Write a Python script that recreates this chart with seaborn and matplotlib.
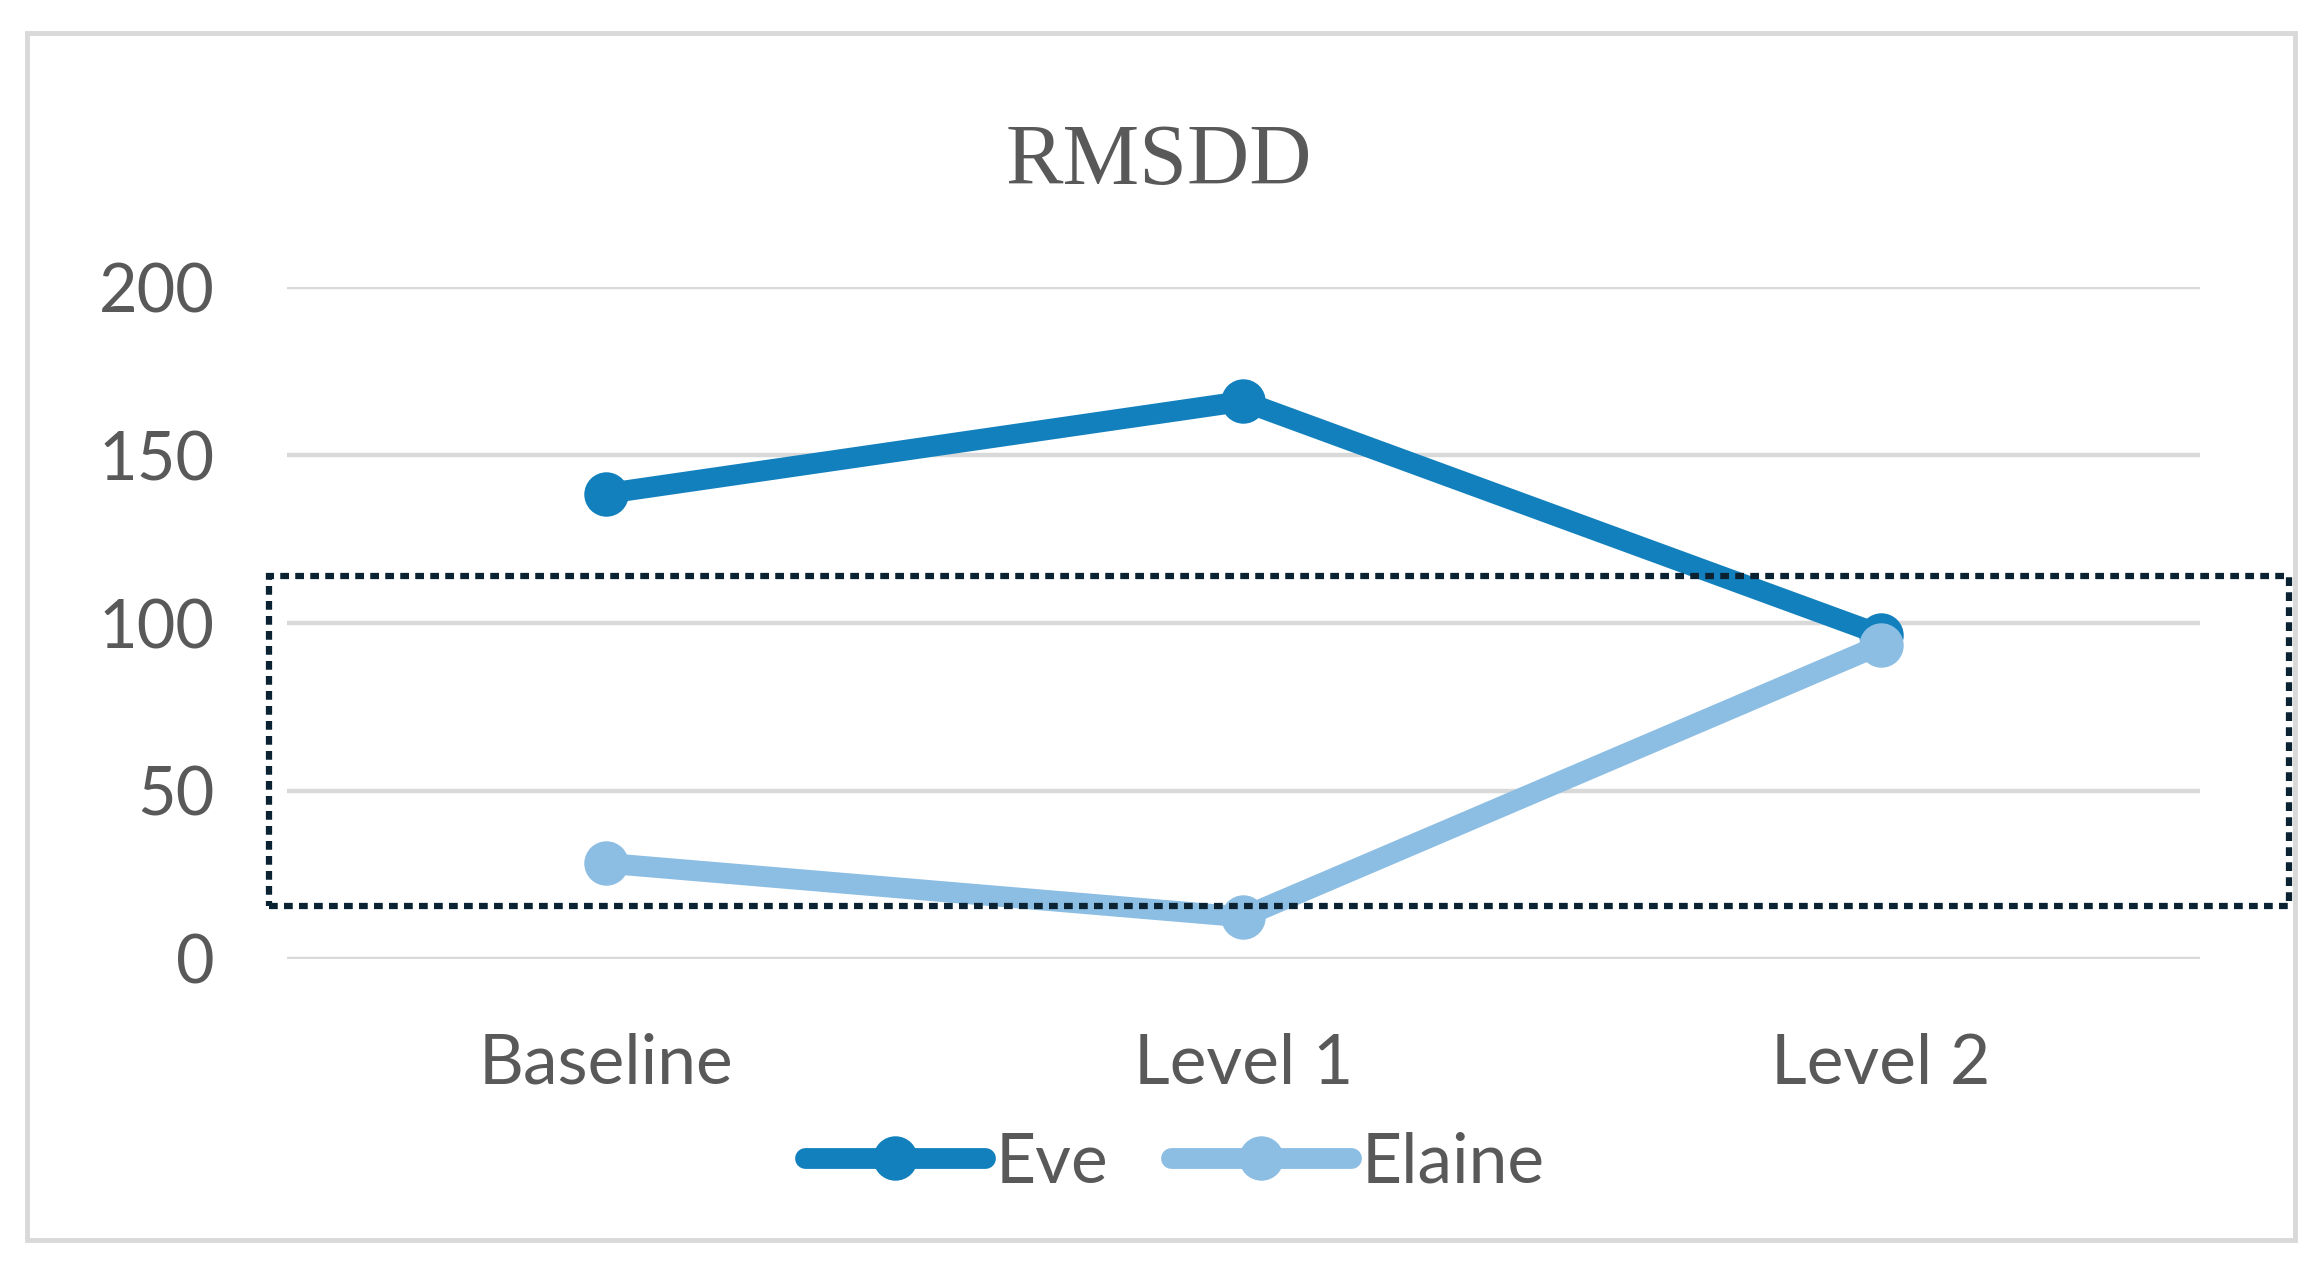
import pandas as pd
from matplotlib import pyplot as plt
from matplotlib.patches import Rectangle
import seaborn as sns

# values
stages = ['Baseline', 'Level 1', 'Level 2']
eve = [138.5, 166, 96.5]
elaine = [28.5, 12.5, 93.5]
series_names = ['Eve', 'Elaine']
y_ticks = [0, 50, 100, 150, 200]

df = pd.DataFrame({
    'stage': stages * 2,
    'value': eve + elaine,
    'name': [series_names[0]] * len(stages) + [series_names[1]] * len(stages),
})

sns.set_theme(style='white')
plt.rcParams['font.family'] = ['Lato', 'DejaVu Sans']
text_grey = '#595959'

fig = plt.figure(figsize=(23.17, 12.73), dpi=100)
fig.patch.set_facecolor('white')
ax = fig.add_axes([0.1238, 0.2467, 0.8255, 0.5278])

sns.lineplot(data=df, x='stage', y='value', hue='name',
             palette=['#1380be', '#8cbde3'], marker='o', markersize=32,
             markeredgewidth=0, linewidth=15, sort=False, ax=ax,
             clip_on=False, solid_capstyle='round')

ax.set_xlim(-0.5, 2.5)
ax.set_ylim(0, 200)
ax.set_yticks(y_ticks)
ax.yaxis.grid(True, color='#d9d9d9', lw=3.2)
ax.xaxis.grid(False)
ax.set_axisbelow(True)
sns.despine(ax=ax, left=True, bottom=True)
ax.set_xlabel('')
ax.set_ylabel('')
ax.tick_params(axis='y', length=0, pad=52, labelsize=48, labelcolor=text_grey)
ax.tick_params(axis='x', length=0, pad=53, labelsize=50, labelcolor=text_grey)

handles, labels = ax.get_legend_handles_labels()
ax.get_legend().remove()
fig.legend(handles, labels, loc='center', bbox_to_anchor=(0.507, 0.0864),
           ncol=2, frameon=False, fontsize=50, labelcolor=text_grey,
           handlelength=2.6, handletextpad=0.15, columnspacing=0.9)

fig.text(0.5003, 0.8717, 'RMSDD', family='Liberation Serif', fontsize=62,
         color=text_grey, ha='center', va='center')

# outer chart border
fig.patches.append(Rectangle((27 / 2317, 1 - 1240 / 1273), (2295 - 27) / 2317,
                             (1240 - 33) / 1273, transform=fig.transFigure,
                             fill=False, ec='#d9d9d9', lw=3.5))
# dotted highlight box
fig.patches.append(Rectangle((0.116, 0.2883), 0.988 - 0.116, 0.5475 - 0.2883,
                             transform=fig.transFigure, fill=False,
                             ec='#0b2233', lw=4.5, linestyle=(0, (1.4, 1.0))))

fig.savefig('out.png', dpi=100)
